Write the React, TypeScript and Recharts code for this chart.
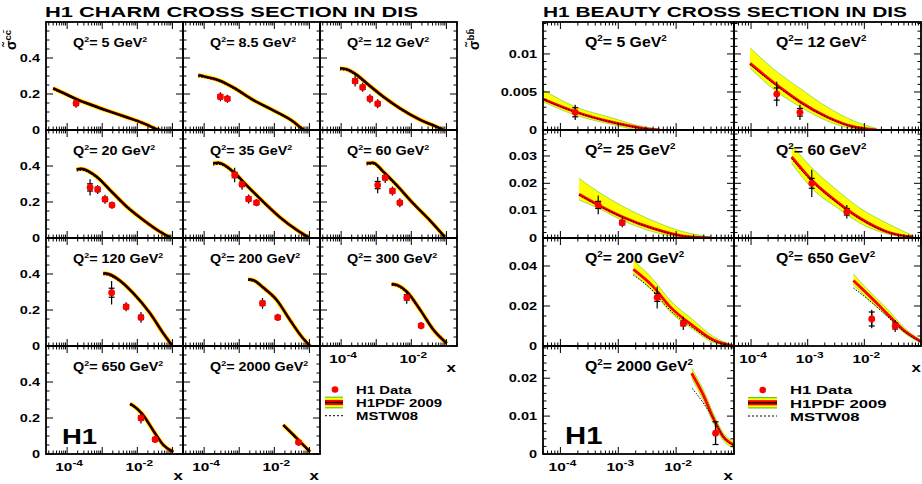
import React from "react";
import { ComposedChart, XAxis, YAxis, Line, Area, Scatter, ErrorBar } from "recharts";

// ---- data ----
const charmQ2 = ["5", "8.5", "12", "20", "35", "60", "120", "200", "300", "650", "2000"];
const beautyQ2 = ["5", "12", "25", "60", "200", "650", "2000"];

// H1PDF 2009 central prediction, charm [x, sigma]
const charmFit = [
  [[4e-5, 0.232], [1e-4, 0.196], [2e-4, 0.169], [5e-4, 0.139], [1.7e-3, 0.102], [5e-3, 0.071], [1e-2, 0.051], [2e-2, 0.027], [3.6e-2, 0.004], [4.5e-2, 0]],
  [[6.8e-5, 0.304], [1e-4, 0.298], [3e-4, 0.272], [7e-4, 0.235], [2.5e-3, 0.167], [9e-3, 0.111], [3.5e-2, 0.046], [6e-2, 0.009], [7e-2, 0]],
  [[9.3e-5, 0.343], [1.4e-4, 0.338], [2.8e-4, 0.306], [5.4e-4, 0.259], [1.6e-3, 0.185], [4.8e-3, 0.12], [1.8e-2, 0.056], [6.6e-2, 0.009], [8e-2, 0]],
  [[1.87e-4, 0.381], [2.5e-4, 0.385], [6.9e-4, 0.341], [1.66e-3, 0.267], [5e-3, 0.174], [1.48e-2, 0.1], [4.4e-2, 0.035], [8.5e-2, 0.004]],
  [[1.8e-4, 0.415], [2.5e-4, 0.418], [6.8e-4, 0.368], [1.6e-3, 0.294], [4.9e-3, 0.2], [1.45e-2, 0.115], [4.4e-2, 0.044], [9.3e-2, 0.004]],
  [[5.3e-4, 0.415], [8e-4, 0.418], [1.6e-3, 0.368], [3.8e-3, 0.294], [1.12e-2, 0.193], [3.3e-2, 0.1], [8.9e-2, 0.007]],
  [[1.07e-3, 0.404], [1.5e-3, 0.4], [2.6e-3, 0.376], [7.7e-3, 0.293], [2.3e-2, 0.182], [5.5e-2, 0.07], [9.5e-2, 0.006]],
  [[1.8e-3, 0.371], [2.6e-3, 0.365], [4.8e-3, 0.325], [1.16e-2, 0.256], [2.8e-2, 0.144], [6e-2, 0.052], [0.105, 0]],
  [[2.75e-3, 0.344], [4e-3, 0.338], [7.4e-3, 0.302], [1.8e-2, 0.2], [4.3e-2, 0.089], [0.102, 0.015]],
  [[6.2e-3, 0.279], [8e-3, 0.266], [1.33e-2, 0.226], [3.2e-2, 0.115], [5.5e-2, 0.05], [0.106, 0.012]],
  [[1.8e-2, 0.161], [3.5e-2, 0.106], [6.7e-2, 0.05], [0.104, 0.013]],
];

// MSTW08 prediction, charm [x, sigma]
const charmMstw = [
  [[4e-5, 0.225], [1e-4, 0.19], [2e-4, 0.163], [5e-4, 0.133], [1.7e-3, 0.097], [5e-3, 0.066], [1e-2, 0.047], [2e-2, 0.024], [3.6e-2, 0.003], [5e-2, 0]],
  [[6.8e-5, 0.296], [1e-4, 0.291], [3e-4, 0.265], [7e-4, 0.228], [2.5e-3, 0.161], [9e-3, 0.106], [3.5e-2, 0.043], [6e-2, 0.008], [8e-2, 0]],
  [[9.3e-5, 0.334], [1.4e-4, 0.33], [2.8e-4, 0.298], [5.4e-4, 0.252], [1.6e-3, 0.179], [4.8e-3, 0.115], [1.8e-2, 0.053], [6.6e-2, 0.008], [9e-2, 0]],
  [[1.87e-4, 0.372], [2.5e-4, 0.376], [6.9e-4, 0.333], [1.66e-3, 0.26], [5e-3, 0.168], [1.48e-2, 0.096], [4.4e-2, 0.033], [8.5e-2, 0.004]],
  [[1.8e-4, 0.405], [2.5e-4, 0.409], [6.8e-4, 0.36], [1.6e-3, 0.287], [4.9e-3, 0.194], [1.45e-2, 0.111], [4.4e-2, 0.042], [9.3e-2, 0.004]],
  [[5.3e-4, 0.406], [8e-4, 0.41], [1.6e-3, 0.36], [3.8e-3, 0.287], [1.12e-2, 0.187], [3.3e-2, 0.097], [8.9e-2, 0.007]],
  [[1.07e-3, 0.396], [1.5e-3, 0.392], [2.6e-3, 0.368], [7.7e-3, 0.286], [2.3e-2, 0.177], [5.5e-2, 0.068], [9.5e-2, 0.006]],
  [[1.8e-3, 0.364], [2.6e-3, 0.358], [4.8e-3, 0.318], [1.16e-2, 0.25], [2.8e-2, 0.14], [6e-2, 0.05], [0.105, 0]],
  [[2.75e-3, 0.337], [4e-3, 0.331], [7.4e-3, 0.295], [1.8e-2, 0.195], [4.3e-2, 0.087], [0.102, 0.015]],
  [[6.2e-3, 0.272], [8e-3, 0.259], [1.33e-2, 0.22], [3.2e-2, 0.112], [5.5e-2, 0.049], [0.106, 0.012]],
  [[1.8e-2, 0.155], [3.5e-2, 0.102], [6.7e-2, 0.048], [0.104, 0.013]],
];

// H1 charm data [x, sigma, total err, stat err]
const charmData = [
  [[1.8e-4, 0.148, 0.025, 0.012]],
  [[2.9e-4, 0.185, 0.025, 0.012], [4.6e-4, 0.174, 0.022, 0.011]],
  [[2.5e-4, 0.272, 0.03, 0.012], [4.1e-4, 0.237, 0.025, 0.012], [6.6e-4, 0.174, 0.025, 0.011], [1.1e-3, 0.146, 0.025, 0.011]],
  [[4.5e-4, 0.281, 0.045, 0.02], [7.4e-4, 0.27, 0.025, 0.012], [1.2e-3, 0.215, 0.025, 0.012], [1.9e-3, 0.183, 0.02, 0.01]],
  [[7.4e-4, 0.35, 0.04, 0.015], [1.2e-3, 0.298, 0.03, 0.012], [1.85e-3, 0.217, 0.025, 0.012], [3.1e-3, 0.196, 0.02, 0.01]],
  [[1.1e-3, 0.294, 0.045, 0.02], [1.8e-3, 0.335, 0.03, 0.012], [2.9e-3, 0.261, 0.025, 0.012], [4.7e-3, 0.196, 0.025, 0.011]],
  [[1.85e-3, 0.296, 0.065, 0.025], [4.8e-3, 0.218, 0.025, 0.012], [1.27e-2, 0.159, 0.03, 0.012]],
  [[4.6e-3, 0.237, 0.03, 0.012], [1.25e-2, 0.159, 0.02, 0.01]],
  [[7.4e-3, 0.27, 0.035, 0.015], [1.9e-2, 0.113, 0.02, 0.01]],
  [[1.27e-2, 0.2, 0.03, 0.012], [3.2e-2, 0.081, 0.02, 0.01]],
  [[4.9e-2, 0.065, 0.02, 0.008]],
];

// H1PDF 2009 beauty [x, central, band low, band high]
const beautyFit = [
  [[5e-5, 0.00408, 0.00372, 0.00526], [1.8e-4, 0.0024, 0.00197, 0.00306], [7.2e-4, 0.00109, 0.00079, 0.00167], [2.7e-3, 0.00022, 0, 0.00043], [5.2e-3, 0, 0, 0.0001]],
  [[9.6e-5, 0.00877, 0.00811, 0.01082], [2.84e-4, 0.00592, 0.00504, 0.00767], [7.3e-4, 0.00372, 0.00306, 0.00548], [2.16e-3, 0.00175, 0.00122, 0.00306], [6.4e-3, 0.00043, 0.00018, 0.00122], [1.65e-2, 0, 0, 0.0002]],
  [[2.1e-4, 0.016, 0.0139, 0.0218], [4.5e-4, 0.0121, 0.0109, 0.0169], [1.22e-3, 0.0076, 0.0063, 0.0115], [4e-3, 0.0035, 0.0023, 0.0063], [1.32e-2, 0.0007, 0.0002, 0.0023], [2.6e-2, 0.0002, 0, 0.001], [4e-2, 0, 0, 0.0003]],
  [[5.2e-4, 0.0297, 0.0273, 0.034], [1.26e-3, 0.0206, 0.0176, 0.0251], [3.25e-3, 0.0133, 0.0112, 0.0176], [8.4e-3, 0.0072, 0.0054, 0.0109], [2.5e-2, 0.0023, 0.0015, 0.0054], [7.3e-2, 0.0003, 0, 0.0008]],
  [[1.82e-3, 0.0383, 0.0363, 0.0427], [4e-3, 0.0297, 0.0272, 0.0333], [7.8e-3, 0.0197, 0.0172, 0.023], [1.97e-2, 0.01, 0.0083, 0.013], [4.4e-2, 0.003, 0.0017, 0.0047], [9.7e-2, 0, 0, 0.0005]],
  [[6.4e-3, 0.0327, 0.0305, 0.036], [1.26e-2, 0.0247, 0.0225, 0.027], [2.5e-2, 0.0163, 0.015, 0.0188], [4.9e-2, 0.008, 0.0068, 0.0095], [0.1, 0.0022, 0.0015, 0.003]],
  [[1.85e-2, 0.0213, 0.02, 0.0226], [2.94e-2, 0.0156, 0.0142, 0.017], [4.4e-2, 0.0094, 0.0081, 0.0107], [6.5e-2, 0.0046, 0.0036, 0.0056], [0.1, 0.0024, 0.0015, 0.0032]],
];

const beautyMstw = [
  [[5e-5, 0.004], [1.8e-4, 0.00236], [7.2e-4, 0.00106], [2.7e-3, 0.0002], [5.2e-3, 0]],
  [[9.6e-5, 0.0086], [2.84e-4, 0.0058], [7.3e-4, 0.00365], [2.16e-3, 0.0017], [6.4e-3, 0.0004], [1.65e-2, 0]],
  [[2.1e-4, 0.0157], [4.5e-4, 0.0119], [1.22e-3, 0.0075], [4e-3, 0.0034], [1.32e-2, 0.0007], [2.6e-2, 0.0002], [4e-2, 0]],
  [[5.2e-4, 0.029], [1.26e-3, 0.0201], [3.25e-3, 0.013], [8.4e-3, 0.007], [2.5e-2, 0.0022], [7.3e-2, 0.0003]],
  [[1.82e-3, 0.0355], [4e-3, 0.0275], [7.8e-3, 0.018], [1.97e-2, 0.009], [4.4e-2, 0.0025], [9.7e-2, 0]],
  [[6.4e-3, 0.029], [1.26e-2, 0.0225], [2.5e-2, 0.015], [4.9e-2, 0.0075], [0.1, 0.002]],
  [[1.9e-2, 0.0173], [2.94e-2, 0.0135], [4.4e-2, 0.0094], [6.5e-2, 0.0046], [0.1, 0.0022]],
];

const beautyData = [
  [[1.8e-4, 0.00233, 0.001, 0.0006]],
  [[2.84e-4, 0.00473, 0.0016, 0.0008], [7.3e-4, 0.00233, 0.001, 0.0005]],
  [[4.5e-4, 0.0121, 0.0034, 0.0013], [1.17e-3, 0.0056, 0.0017, 0.0008]],
  [[1.18e-3, 0.02, 0.005, 0.0018], [4.9e-3, 0.0096, 0.0025, 0.0012]],
  [[4.7e-3, 0.0243, 0.0055, 0.002], [1.33e-2, 0.0113, 0.0033, 0.0012]],
  [[1.35e-2, 0.0135, 0.0046, 0.0035], [3.5e-2, 0.01, 0.003, 0.0015]],
  [[4.8e-2, 0.0055, 0.003, 0.003]],
];

// axes
const charmXDomain = [2.5e-5, 0.2];
const beautyXDomain = [5e-5, 0.1];
const charmXLabelExp = [-4, -2];
const beautyXLabelExp = [-4, -3, -2];
const charmYTicks = [0, 0.05, 0.1, 0.15, 0.2, 0.25, 0.3, 0.35, 0.4, 0.45, 0.5, 0.55];
const charmYMajor = [0, 0.2, 0.4];
const beautyYTop = [0.0142, 0.0395, 0.054, 0.0285];
const beautyYTicks = [
  [0, 0.001, 0.002, 0.003, 0.004, 0.005, 0.006, 0.007, 0.008, 0.009, 0.01, 0.011, 0.012, 0.013, 0.014],
  [0, 0.002, 0.004, 0.006, 0.008, 0.01, 0.012, 0.014, 0.016, 0.018, 0.02, 0.022, 0.024, 0.026, 0.028, 0.03, 0.032, 0.034, 0.036, 0.038],
  [0, 0.005, 0.01, 0.015, 0.02, 0.025, 0.03, 0.035, 0.04, 0.045, 0.05],
  [0, 0.002, 0.004, 0.006, 0.008, 0.01, 0.012, 0.014, 0.016, 0.018, 0.02, 0.022, 0.024, 0.026, 0.028],
];
const beautyYMajor = [[0, 0.005, 0.01], [0, 0.01, 0.02, 0.03], [0, 0.02, 0.04], [0, 0.01, 0.02]];

// ---- layout ----
const FONT = "'Liberation Sans', Arial, Helvetica, sans-serif";
const YELLOW = "#ffff00";
const RED = "#ff0000";
const GREEN = "#55cc33";
const TOP = 22;
const RH = 108;
const CH_LEFT = [46, 183, 320];
const CH_W = 137;
const BT_LEFT = [543, 734];
const BT_W = [191, 187];
const charmCells = [[0, 0], [0, 1], [0, 2], [1, 0], [1, 1], [1, 2], [2, 0], [2, 1], [2, 2], [3, 0], [3, 1]];
const beautyCells = [[0, 0], [0, 1], [1, 0], [1, 1], [2, 0], [2, 1], [3, 0]];
const charmXLabelled = [8, 9, 10];
const beautyXLabelled = [5, 6];
const M = { top: 4, right: 6, bottom: 32, left: 46 };

function logTicks(lo: number, hi: number) {
  const out: number[] = [];
  for (let e = Math.floor(Math.log10(lo)); e <= Math.ceil(Math.log10(hi)); e++) {
    for (let m = 1; m <= 9; m++) {
      const v = m * Math.pow(10, e);
      if (v >= lo * 0.999 && v <= hi * 1.001) out.push(v);
    }
  }
  return out;
}
const charmXTicks = logTicks(charmXDomain[0], charmXDomain[1]);
const beautyXTicks = logTicks(beautyXDomain[0], beautyXDomain[1]);

function SText({ x, y, sx = 1.4, size = 10, anchor = "start", children }: any) {
  return (
    <text
      transform={`translate(${x} ${y}) scale(${sx} 1)`}
      fontSize={size}
      fontWeight="bold"
      fontFamily={FONT}
      textAnchor={anchor}
      fill="#000"
    >
      {children}
    </text>
  );
}

function XTick({ x, y, payload, h, labels }: any) {
  const v = payload.value;
  const lg = Math.log10(v);
  const major = Math.abs(lg - Math.round(lg)) < 1e-6;
  const len = major ? 7 : 3.5;
  const lab = labels && major && labels.includes(Math.round(lg));
  return (
    <g>
      <line x1={x} x2={x} y1={y} y2={y - len} stroke="#000" strokeWidth={1} />
      <line x1={x} x2={x} y1={y - h} y2={y - h + len} stroke="#000" strokeWidth={1} />
      {lab && (
        <SText x={x + 2} y={y + 17} size={11} sx={1.4} anchor="middle">
          10<tspan dy={-5.5} fontSize={8.5}>{Math.round(lg)}</tspan>
        </SText>
      )}
    </g>
  );
}

function YTick({ x, y, payload, w, major, show }: any) {
  const v = payload.value;
  const isMajor = major.some((m: number) => Math.abs(m - v) < 1e-9);
  const len = isMajor ? 7 : 3.5;
  return (
    <g>
      <line x1={x} x2={x + len} y1={y} y2={y} stroke="#000" strokeWidth={1} />
      <line x1={x + w} x2={x + w - len} y1={y} y2={y} stroke="#000" strokeWidth={1} />
      {show && isMajor && (
        <SText x={x - 6} y={y + 3.8} size={10.5} sx={1.38} anchor="end">
          {String(v)}
        </SText>
      )}
    </g>
  );
}

// axes get a 1px band (a 0px axis is not drawn); margins give that pixel back
function Panel({ left, top, w, h, xDomain, xTicks, xLab, yDomain, yTicks, yMajor, yLab, children }: any) {
  return (
    <div style={{ position: "absolute", left: left - M.left, top: top - M.top }}>
      <ComposedChart
        width={w + M.left + M.right}
        height={h + M.top + M.bottom}
        margin={{ top: M.top, right: M.right, bottom: M.bottom - 1, left: M.left - 1 }}
      >
        <XAxis
          dataKey="x"
          type="number"
          scale="log"
          domain={xDomain}
          allowDataOverflow
          ticks={xTicks}
          interval={0}
          height={1}
          tickSize={0}
          tickMargin={0}
          axisLine={false}
          tickLine={false}
          tick={(p: any) => <XTick {...p} h={h} labels={xLab} />}
        />
        <YAxis
          type="number"
          domain={yDomain}
          allowDataOverflow
          ticks={yTicks}
          interval={0}
          width={1}
          tickSize={0}
          tickMargin={0}
          axisLine={false}
          tickLine={false}
          tick={(p: any) => <YTick {...p} w={w} major={yMajor} show={yLab} />}
        />
        {children}
      </ComposedChart>
    </div>
  );
}

const dotShape = (p: any) => <circle cx={p.cx} cy={p.cy} r={3.4} fill={RED} />;

function points(rows: number[][]) {
  return rows.map(([x, y, tot, stat]) => ({ x, y, tot, stat }));
}

function dataSeries(rows: number[][]) {
  return (
    <Scatter key="data" data={points(rows)} dataKey="y" shape={dotShape} isAnimationActive={false}>
      <ErrorBar dataKey="tot" direction="y" width={0} stroke="#000" strokeWidth={1.2} isAnimationActive={false} />
      <ErrorBar dataKey="stat" direction="y" width={3} stroke="#000" strokeWidth={1.2} isAnimationActive={false} />
    </Scatter>
  );
}

function charmSeries(i: number) {
  const fit = charmFit[i].map(([x, y]) => ({ x, y }));
  const mstw = charmMstw[i].map(([x, y]) => ({ x, y }));
  return [
    <Line key="y" data={fit} dataKey="y" type="monotone" stroke={YELLOW} strokeWidth={4.6} dot={false} activeDot={false} isAnimationActive={false} />,
    <Line key="r" data={fit} dataKey="y" type="monotone" stroke={RED} strokeWidth={3} dot={false} activeDot={false} isAnimationActive={false} />,
    <Line key="m" data={mstw} dataKey="y" type="monotone" stroke="#000" strokeWidth={1} strokeDasharray="1.5 1.5" dot={false} activeDot={false} isAnimationActive={false} />,
    <Line key="c" data={fit} dataKey="y" type="monotone" stroke="#000" strokeWidth={2} dot={false} activeDot={false} isAnimationActive={false} />,
    dataSeries(charmData[i]),
  ];
}

function beautySeries(i: number) {
  const fit = beautyFit[i].map(([x, c, lo, hi]) => ({ x, c, lo, hi }));
  const mstw = beautyMstw[i].map(([x, y]) => ({ x, y }));
  return [
    <Area key="band" data={fit} dataKey={(d: any) => [d.lo, d.hi]} type="monotone" fill={YELLOW} fillOpacity={1} stroke={GREEN} strokeWidth={0.6} dot={false} activeDot={false} isAnimationActive={false} />,
    <Line key="c" data={fit} dataKey="c" type="monotone" stroke={RED} strokeWidth={2.8} dot={false} activeDot={false} isAnimationActive={false} />,
    <Line key="m" data={mstw} dataKey="y" type="monotone" stroke="#000" strokeWidth={1} strokeDasharray="1.5 1.5" dot={false} activeDot={false} isAnimationActive={false} />,
    dataSeries(beautyData[i]),
  ];
}

function QLabel({ x, y, q, size, sx }: any) {
  const up = size * 0.4;
  return (
    <SText x={x} y={y} size={size} sx={sx}>
      Q<tspan dy={-up} fontSize={size * 0.62}>2</tspan>
      <tspan dy={up}>= {q} GeV</tspan>
      <tspan dy={-up} fontSize={size * 0.62}>2</tspan>
    </SText>
  );
}

function BandSymbol({ x, y, w, h }: any) {
  return (
    <g>
      <rect x={x} y={y} width={w} height={h} fill={GREEN} />
      <rect x={x} y={y + 1.2} width={w} height={h - 2.4} fill={YELLOW} />
      <rect x={x} y={y + h / 2 - 2.6} width={w} height={5.2} fill={RED} />
      <line x1={x} x2={x + w} y1={y + h / 2} y2={y + h / 2} stroke="#000" strokeWidth={1.3} />
    </g>
  );
}

export default function App() {
  return (
    <div style={{ position: "absolute", left: 0, top: 0, width: 922, height: 484, overflow: "hidden", background: "#fff" }}>
      {charmCells.map(([r, c], i) => (
        <Panel
          key={"c" + i}
          left={CH_LEFT[c]}
          top={TOP + r * RH}
          w={CH_W}
          h={RH}
          xDomain={charmXDomain}
          xTicks={charmXTicks}
          xLab={charmXLabelled.includes(i) ? charmXLabelExp : null}
          yDomain={[0, 0.6]}
          yTicks={charmYTicks}
          yMajor={charmYMajor}
          yLab={c === 0}
        >
          {charmSeries(i)}
        </Panel>
      ))}
      {beautyCells.map(([r, c], i) => (
        <Panel
          key={"b" + i}
          left={BT_LEFT[c]}
          top={TOP + r * RH}
          w={BT_W[c]}
          h={RH}
          xDomain={beautyXDomain}
          xTicks={beautyXTicks}
          xLab={beautyXLabelled.includes(i) ? beautyXLabelExp : null}
          yDomain={[0, beautyYTop[r]]}
          yTicks={beautyYTicks[r]}
          yMajor={beautyYMajor[r]}
          yLab={c === 0}
        >
          {beautySeries(i)}
        </Panel>
      ))}

      <svg width={922} height={484} style={{ position: "absolute", left: 0, top: 0, pointerEvents: "none" }}>
        {/* titles */}
        <text x={45} y={17.3} fontSize={15.5} fontWeight="bold" fontFamily={FONT} textLength={373} lengthAdjust="spacingAndGlyphs">
          H1 CHARM CROSS SECTION IN DIS
        </text>
        <text x={543} y={17.3} fontSize={15.5} fontWeight="bold" fontFamily={FONT} textLength={364} lengthAdjust="spacingAndGlyphs">
          H1 BEAUTY CROSS SECTION IN DIS
        </text>

        {/* y titles */}
        <text transform="translate(16 50) rotate(-90)" fontSize={14} fontWeight="bold" fontFamily={FONT}>
          σ̃<tspan dy={-5} fontSize={9.5}>cc̄</tspan>
        </text>
        <text transform="translate(479 50) rotate(-90)" fontSize={14} fontWeight="bold" fontFamily={FONT}>
          σ̃<tspan dy={-5} fontSize={9.5}>bb̄</tspan>
        </text>

        {/* frames */}
        {charmCells.map(([r, c], i) => (
          <rect key={"fc" + i} x={CH_LEFT[c]} y={TOP + r * RH} width={CH_W} height={RH} fill="none" stroke="#000" strokeWidth={1.8} />
        ))}
        {beautyCells.map(([r, c], i) => (
          <rect key={"fb" + i} x={BT_LEFT[c]} y={TOP + r * RH} width={BT_W[c]} height={RH} fill="none" stroke="#000" strokeWidth={1.8} />
        ))}

        {/* Q2 labels */}
        {charmCells.map(([r, c], i) => (
          <QLabel key={"qc" + i} x={CH_LEFT[c] + 27} y={TOP + r * RH + 24.5} q={charmQ2[i]} size={12.5} sx={1.15} />
        ))}
        {beautyCells.map(([r, c], i) => (
          <QLabel key={"qb" + i} x={BT_LEFT[c] + 42} y={TOP + r * RH + 25} q={beautyQ2[i]} size={14} sx={1.13} />
        ))}

        {/* x axis titles */}
        <SText x={183} y={480} size={13} sx={1.3} anchor="end">x</SText>
        <SText x={319} y={480} size={13} sx={1.3} anchor="end">x</SText>
        <SText x={456} y={372} size={13} sx={1.3} anchor="end">x</SText>
        <SText x={733} y={480} size={13} sx={1.3} anchor="end">x</SText>
        <SText x={921} y={372} size={13} sx={1.3} anchor="end">x</SText>

        {/* H1 logos */}
        <SText x={62} y={444} size={22} sx={1.25}>H1</SText>
        <SText x={565} y={444} size={24} sx={1.22}>H1</SText>

        {/* charm legend */}
        <circle cx={335} cy={389.5} r={3.3} fill={RED} />
        <SText x={356} y={393.5} size={10.5} sx={1.42}>H1 Data</SText>
        <BandSymbol x={325} y={396.6} w={18} h={11.8} />
        <SText x={356} y={407} size={10.5} sx={1.42}>H1PDF 2009</SText>
        <line x1={325} x2={343} y1={415.7} y2={415.7} stroke="#000" strokeWidth={1} strokeDasharray="2 2" />
        <SText x={356} y={420} size={10.5} sx={1.42}>MSTW08</SText>

        {/* beauty legend */}
        <circle cx={762.7} cy={390} r={3.3} fill={RED} />
        <SText x={790} y={394.2} size={11} sx={1.52}>H1 Data</SText>
        <BandSymbol x={748} y={397} w={29} h={11.5} />
        <SText x={790} y={407.5} size={11} sx={1.52}>H1PDF 2009</SText>
        <line x1={748} x2={777} y1={416} y2={416} stroke="#000" strokeWidth={1} strokeDasharray="2 2" />
        <SText x={790} y={420.7} size={11} sx={1.52}>MSTW08</SText>
      </svg>
    </div>
  );
}
